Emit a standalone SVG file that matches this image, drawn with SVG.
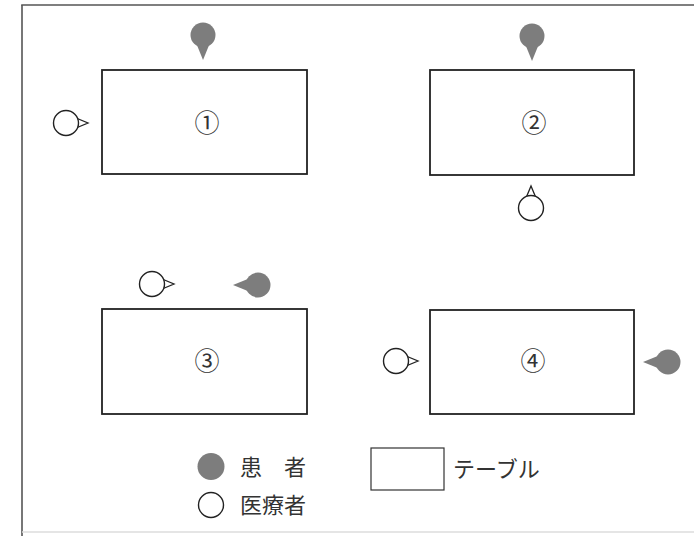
<svg xmlns="http://www.w3.org/2000/svg" xmlns:xlink="http://www.w3.org/1999/xlink" width="694" height="536" viewBox="0 0 694 536">
<style>
.table{fill:#fff;stroke:#222;stroke-width:1.8}
.lbl{font-family:"Noto Sans CJK JP","Noto Sans",sans-serif;font-size:22px;fill:#333}
.num{text-anchor:middle;font-size:25px}
.frame{stroke:#555;stroke-width:1.6;fill:none}
</style>
<defs>
<g id="patient">
<path d="M25,0 L9,-6.5 L9,6.5 Z" fill="#7d7d7d"/>
<circle r="12.5" fill="#7d7d7d"/>
</g>
<g id="doctor">
<path d="M10,-5 L22,0 L10,5" fill="#fff" stroke="#222" stroke-width="1.3" stroke-linejoin="miter"/>
<circle r="12.5" fill="#fff" stroke="#222" stroke-width="1.4"/>
</g>
</defs>
<rect width="694" height="536" fill="#fff"/>
<g id="frame">
<line class="frame" x1="21.2" y1="5" x2="694" y2="5"/>
<line class="frame" x1="22" y1="5" x2="22" y2="536"/>
<line x1="22" y1="532" x2="694" y2="532" stroke="#ddd" stroke-width="1.5"/>
</g>
<g id="table1"><rect class="table" x="102" y="70" width="205" height="104"/><text class="lbl num" x="207" y="132">①</text></g>
<g id="table2"><rect class="table" x="430" y="70" width="204" height="105"/><text class="lbl num" x="534" y="132">②</text></g>
<g id="table3"><rect class="table" x="102" y="309" width="205" height="105"/><text class="lbl num" x="207" y="370">③</text></g>
<g id="table4"><rect class="table" x="430" y="310" width="204" height="104"/><text class="lbl num" x="533" y="370">④</text></g>
<g id="people">
<use id="patient1" xlink:href="#patient" transform="translate(203,35) rotate(90)"/>
<use id="doctor1" xlink:href="#doctor" transform="translate(66,123)"/>
<use id="patient2" xlink:href="#patient" transform="translate(532,36) rotate(90)"/>
<use id="doctor2" xlink:href="#doctor" transform="translate(531,208) rotate(-90)"/>
<use id="doctor3" xlink:href="#doctor" transform="translate(152,284)"/>
<use id="patient3" xlink:href="#patient" transform="translate(258,285) rotate(180)"/>
<use id="doctor4" xlink:href="#doctor" transform="translate(396,361)"/>
<use id="patient4" xlink:href="#patient" transform="translate(668,362) rotate(180)"/>
</g>
<g id="legend">
<circle cx="211" cy="466.5" r="13.5" fill="#7d7d7d"/>
<text class="lbl" x="240" y="475">患　者</text>
<circle cx="211" cy="505" r="12.5" fill="#fff" stroke="#222" stroke-width="1.4"/>
<text class="lbl" x="240" y="513">医療者</text>
<rect x="371" y="448" width="73" height="42" fill="#fff" stroke="#333" stroke-width="1.2"/>
<text class="lbl" x="453" y="477">テーブル</text>
</g>
</svg>
